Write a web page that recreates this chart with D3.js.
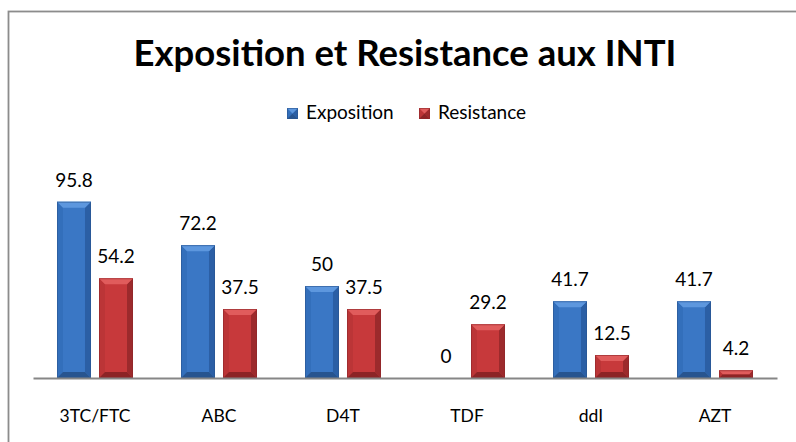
<!DOCTYPE html>
<html>
<head>
<meta charset="utf-8">
<script src="https://cdn.jsdelivr.net/npm/d3@7"></script>
<style>
  body { margin: 0; background: #fff; }
  svg { display: block; font-family: Lato, "Open Sans", sans-serif; }
</style>
</head>
<body>
<svg class="chart"></svg>
<script>
var categories = ["3TC/FTC", "ABC", "D4T", "TDF", "ddI", "AZT"];
var series = ["Exposition", "Resistance"];
var exposition = [95.8, 72.2, 50, 0, 41.7, 41.7];
var resistance = [54.2, 37.5, 37.5, 29.2, 12.5, 4.2];

var width = 796,
    height = 442;

// bevel shades: face, top, left, right, bottom
var shades = {
  Exposition: {face: "#3a77c5", top: "#5d97de", left: "#336fbb", right: "#2b5fa5", bottom: "#27548f", edge: "#2a5590"},
  Resistance: {face: "#c7393b", top: "#e05c5c", left: "#bb3537", right: "#9c2a2c", bottom: "#8c2426", edge: "#8e2729"}
};

var data = categories.map(function(c, i) {
  return {name: c, values: [
    {key: "Exposition", value: exposition[i]},
    {key: "Resistance", value: resistance[i]}
  ]};
});

var svg = d3.select(".chart")
    .attr("width", width)
    .attr("height", height);

// chart frame
svg.append("rect")
    .attr("x", 8.5).attr("y", 11.5)
    .attr("width", 1000).attr("height", 1000)
    .attr("fill", "none")
    .attr("stroke", "#8c8c8c")
    .attr("stroke-width", 1.8);

var x0 = d3.scaleBand().domain(categories).range([33, 777]),
    x1 = d3.scaleBand().domain(series).range([24, 100]).paddingInner(0.1905),
    y = d3.scaleLinear().domain([0, 120]).range([378, 157.2]);

function bevel(g, bx, by, bw, bh, s) {
  var b = Math.min(6, bh / 2, bw / 2);
  g.append("rect").attr("x", bx).attr("y", by).attr("width", bw).attr("height", bh)
      .attr("fill", s.face);
  g.append("polygon").attr("fill", s.left)
      .attr("points", [[bx, by], [bx + b, by + b], [bx + b, by + bh - b], [bx, by + bh]].join(" "));
  g.append("polygon").attr("fill", s.right)
      .attr("points", [[bx + bw, by], [bx + bw - b, by + b], [bx + bw - b, by + bh - b], [bx + bw, by + bh]].join(" "));
  g.append("polygon").attr("fill", s.bottom)
      .attr("points", [[bx, by + bh], [bx + b, by + bh - b], [bx + bw - b, by + bh - b], [bx + bw, by + bh]].join(" "));
  g.append("polygon").attr("fill", s.top)
      .attr("points", [[bx, by], [bx + bw, by], [bx + bw - b, by + b], [bx + b, by + b]].join(" "));
  g.append("rect").attr("x", bx + 0.5).attr("y", by + 0.5)
      .attr("width", Math.max(0, bw - 1)).attr("height", Math.max(0, bh - 1))
      .attr("fill", "none").attr("stroke", s.edge).attr("stroke-opacity", 0.6);
}

var groups = svg.selectAll(".cat")
    .data(data)
  .enter().append("g")
    .attr("class", "cat")
    .attr("transform", function(d) { return "translate(" + x0(d.name) + ",0)"; });

groups.each(function(d) {
  var g = d3.select(this);
  d.values.forEach(function(v) {
    var h = y(0) - y(v.value);
    if (h > 0) bevel(g.append("g"), x1(v.key), y(v.value), x1.bandwidth(), h, shades[v.key]);
    g.append("text")
        .attr("x", x1(v.key) + x1.bandwidth() / 2)
        .attr("y", y(v.value) - 15)
        .attr("text-anchor", "middle")
        .style("font-size", "19px")
        .attr("fill", "#000")
        .text(v.value);
  });
});

// x axis
var xAxis = d3.axisBottom(x0).tickSize(0).tickPadding(32);
var ax = svg.append("g")
    .attr("class", "x axis")
    .attr("transform", "translate(0," + y(0) + ")")
    .call(xAxis);
ax.select(".domain").attr("stroke", "#868686").attr("stroke-width", 2);
ax.selectAll("text")
    .attr("fill", "#000")
    .style("font-family", "Lato, sans-serif")
    .style("font-size", "17.5px");

// title
svg.append("text")
    .attr("x", 405)
    .attr("y", 66)
    .attr("text-anchor", "middle")
    .style("font-size", "36.5px")
    .style("font-weight", "bold")
    .text("Exposition et Resistance aux INTI");

// legend
var legendX = [287, 419];
series.forEach(function(s, i) {
  bevel(svg.append("g"), legendX[i], 108, 11, 11, shades[s]);
  svg.append("text")
      .attr("x", legendX[i] + 19)
      .attr("y", 119)
      .style("font-size", "19px")
      .text(s);
});
</script>
</body>
</html>
